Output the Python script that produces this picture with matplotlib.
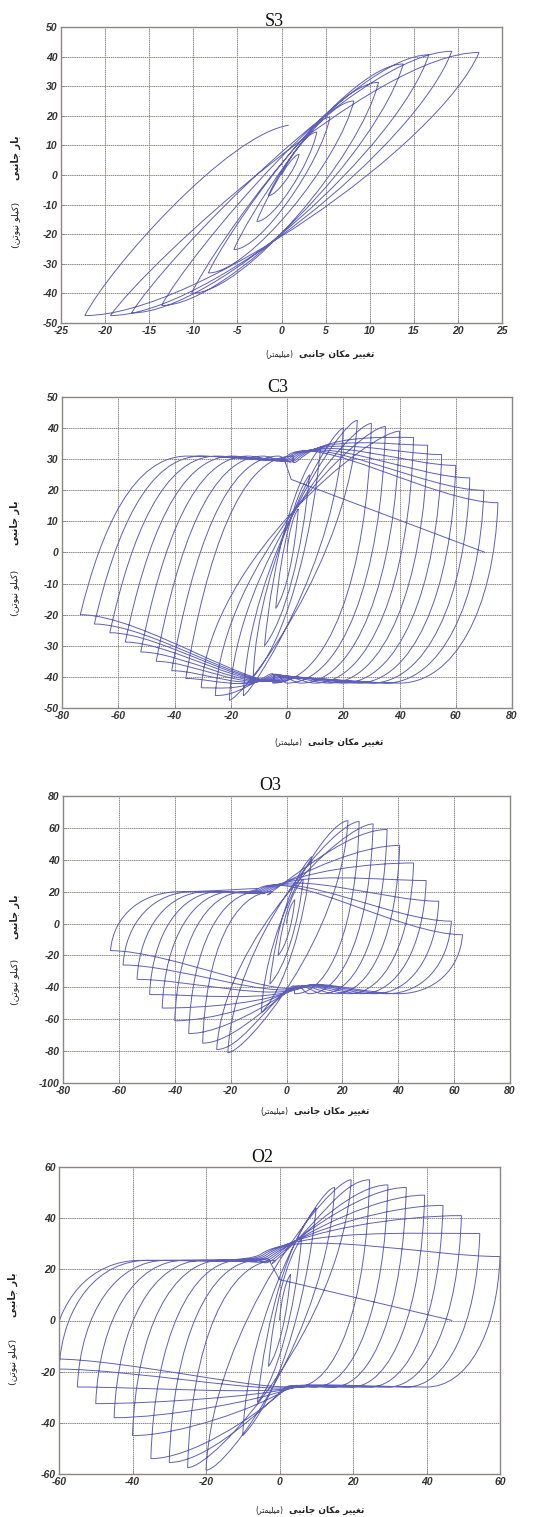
import matplotlib
matplotlib.use("Agg")
import matplotlib.pyplot as plt
from matplotlib.path import Path
from matplotlib.patches import PathPatch

plt.rcParams["axes.unicode_minus"] = False

W, H = 554, 1517
LINE_COLOR = "#5f5fbb"
LW = 0.7
GRID_COLOR = "#8c8682"

# ---------------- S3 ----------------
s3_pos_x = [2.0, 4.0, 5.5, 8.2, 11.0, 13.8, 16.7, 19.3, 22.4]
s3_pos_y = [7.0, 14.5, 19.5, 25.0, 31.3, 37.5, 40.6, 41.8, 41.4]
s3_neg_x = [-1.5, -2.8, -5.4, -8.3, -10.2, -13.6, -17.0, -19.4, -22.3]
s3_neg_y = [-7.0, -15.7, -25.2, -33.1, -40.0, -44.1, -46.6, -47.5, -47.5]
s3_end = (0.8, 16.8)

# ---------------- C3 ----------------
c3_pos_x = [20, 25, 30, 35, 40, 45, 50, 55, 60, 65, 70, 75]
c3_pos_y = [40, 42.5, 41.5, 40.5, 39, 37, 34.5, 31.5, 28, 24, 20, 16]
c3_neg_x = [-15.5, -20.5, -25.5, -30.5, -36, -41, -46.5, -52, -57.5, -63, -68.5, -73.5]
c3_neg_y = [-46, -47.5, -46, -43.5, -40.5, -38, -35, -32, -28.8, -25.8, -23, -20]
c3_small_pos = [(4, 14), (8, 25), (12, 34)]
c3_small_neg = [(-4, -18), (-8, -30), (-12, -40)]
c3_final = [(-1, 30), (1.5, 23.5), (70.5, 0)]

# ---------------- O3 ----------------
o3_pos_x = [22, 26, 31, 36, 40.5, 45.5, 50, 54.5, 59, 63]
o3_pos_y = [64.5, 64, 62.5, 59, 49, 38, 27, 14, 1.5, -7]
o3_neg_x = [-21, -25, -30, -35, -40, -44.5, -49, -53.5, -58.5, -63]
o3_neg_y = [-81, -79, -75, -69, -61, -53, -44.5, -35, -26, -17]
o3_small_pos = [(3, 15), (6, 28), (9, 42)]
o3_small_neg = [(-3, -20), (-6, -38), (-9, -56)]
o3_final = []

# ---------------- O2 ----------------
o2_pos_x = [15, 19.5, 24.5, 29.5, 34.5, 39.5, 44.5, 49.5, 54.5, 60]
o2_pos_y = [52, 55, 55, 53, 52, 49, 45, 41, 34, 25]
o2_neg_x = [-20, -25, -30, -35, -40, -45, -50, -55, -60, -62]
o2_neg_y = [-58.5, -57.5, -55.5, -54, -45, -38, -32.5, -26, -19, -15]
o2_small_pos = [(3, 18), (6, 32), (10, 44)]
o2_small_neg = [(-3, -18), (-6, -32), (-10, -45)]
o2_final = [(-3, 24), (0, 16), (47, 0)]

# loop shape settings per specimen
shapes = {
    "C3": dict(wl=38, ytop=31, s0t=(4, 30), spt=(-8, 2), otx=10, bumpt=8,
               wr=35, ybot=-42, s0b=(-4, -40), spb=(8, -2), obx=-10, bumpb=5,
               larc=(0.2, 0.55, 0.5), rarc=(0.04, 0.6, 0.55)),
    "O3": dict(wl=25, ytop=20, s0t=(-6, 21), spt=(-8, 2), otx=12, bumpt=12,
               wr=23, ybot=-44, s0b=(4, -40), spb=(8, 2), obx=-10, bumpb=10,
               larc=(0.04, 0.6, 0.55), rarc=(0.04, 0.6, 0.55)),
    "O2": dict(wl=24, ytop=23.5, s0t=(-2, 25), spt=(-6, 2), otx=10, bumpt=10,
               wr=20, ybot=-26, s0b=(2, -27), spb=(6, 3), obx=-8, bumpb=3,
               larc=(0.04, 0.6, 0.55), rarc=(0.04, 0.6, 0.55)),
}


def curve(v, c, c1, c2, end):
    v += [c1, c2, end]
    c += [Path.CURVE4] * 3


def seg(v, c, a_pt, b_pt, a, b, cc, d):
    dx = b_pt[0] - a_pt[0]
    dy = b_pt[1] - a_pt[1]
    curve(v, c, (a_pt[0] + a * dx, a_pt[1] + b * dy), (b_pt[0] - cc * dx, b_pt[1] - d * dy), b_pt)


def load(v, c, n, p, s, frac, stop=None):
    jx = s["s0t"][0] + frac * s["spt"][0]
    jy = s["s0t"][1] + frac * s["spt"][1]
    if stop is not None:
        jx, jy = stop
    ax = n[0] + s["wl"]
    if ax >= jx and p is not None:
        # inner cycle: one steep curve straight into the peak
        curve(v, c, (n[0] + 0.05 * (p[0] - n[0]), n[1] + 0.5 * (p[1] - n[1])),
              (p[0] - 0.3 * (p[0] - jx), p[1]), p)
        return
    a_pt = (ax, s["ytop"])
    la, lb, lc = s["larc"]
    seg(v, c, n, a_pt, la, lb, lc, 0)
    if p is None:
        curve(v, c, (a_pt[0] + (jx - a_pt[0]) / 3, a_pt[1]), (jx - 3, jy), (jx, jy))
        return
    rx, ry = s["otx"], max(s["bumpt"], 0.4 * (p[1] - jy))
    curve(v, c, (a_pt[0] + (jx - a_pt[0]) / 3, a_pt[1]), (jx - 0.35 * rx, jy - 0.35 * ry), (jx, jy))
    curve(v, c, (jx + rx, jy + ry), (p[0] - 0.3 * (p[0] - jx), p[1]), p)


def unload(v, c, p, n, s, frac):
    jx = s["s0b"][0] + frac * s["spb"][0]
    jy = s["s0b"][1] + frac * s["spb"][1]
    bx = p[0] - s["wr"]
    if bx <= jx:
        curve(v, c, (p[0] + 0.05 * (n[0] - p[0]), p[1] + 0.5 * (n[1] - p[1])),
              (n[0] + 0.3 * (jx - n[0]), n[1]), n)
        return
    b_pt = (bx, s["ybot"])
    ra, rb, rc = s["rarc"]
    seg(v, c, p, b_pt, ra, rb, rc, 0)
    rx, ry = s["obx"], -max(s["bumpb"], 0.4 * (jy - n[1]))
    curve(v, c, (b_pt[0] + (jx - b_pt[0]) / 3, b_pt[1]), (jx - 0.35 * rx, jy - 0.35 * ry), (jx, jy))
    curve(v, c, (jx + rx, jy + ry), (n[0] + 0.3 * (jx - n[0]), n[1]), n)


def pinched_path(pos_x, pos_y, neg_x, neg_y, small_pos, small_neg, final, s):
    v, c = [(0, 0)], [Path.MOVETO]
    cur = (0, 0)
    for sp, sn in zip(small_pos, small_neg):
        seg(v, c, cur, sp, 0.15, 0.45, 0.45, 0.15)
        seg(v, c, sp, sn, 0.15, 0.45, 0.45, 0.15)
        cur = sn
    n = len(pos_x)
    for i, (px, py, nx, ny) in enumerate(zip(pos_x, pos_y, neg_x, neg_y)):
        frac = i / (n - 1) - 0.5
        load(v, c, cur, (px, py), s, frac)
        unload(v, c, (px, py), (nx, ny), s, frac)
        cur = (nx, ny)
    if final:
        load(v, c, cur, None, s, 0.5, stop=final[0])
        for pt in final[1:]:
            v.append(pt)
            c.append(Path.LINETO)
    else:
        load(v, c, cur, None, s, 0.5)
    return Path(v, c)


def s3_path():
    v, c = [(0, 0)], [Path.MOVETO]
    cur = (0, 0)
    for px, py, nx, ny in zip(s3_pos_x, s3_pos_y, s3_neg_x, s3_neg_y):
        seg(v, c, cur, (px, py), 0.1, 0.2, 0.28, 0)
        seg(v, c, (px, py), (nx, ny), 0.1, 0.35, 0.28, 0)
        cur = (nx, ny)
    seg(v, c, cur, s3_end, 0.12, 0.25, 0.3, 0.05)
    return Path(v, c)


def fa(word):
    return "".join(chr(int(h, 16)) for h in word.split())


# visual-order presentation forms (right-to-left text laid out left-to-right)
X_MAIN = " ".join([fa("FEF0 FE92 FEE7 FE8E FE9F"), fa("FEE5 FE8E FB91 FEE3"), fa("FEAE FEF4 FEF4 FED0 FE97")])
X_UNIT = "(" + fa("FEAE FE98 FEE4 FEF4 FEE0 FEF4 FEE3") + ")"
Y_MAIN = " ".join([fa("FEF0 FE92 FEE7 FE8E FE9F"), fa("FEAD FE8E FE91")])
Y_UNIT = "(" + fa("FEE6 FE97 FEEE FEF4 FEE7") + " " + fa("FEEE FEE0 FEF4 FB90") + ")"

panels = [
    # name, box (l, r, t, b) px, xlim, xstep, ylim, ystep, title xy,
    # xlabel (unit right edge x, y), ylabel (x, main y, unit y)
    ("S3", (61, 502, 27, 323), (-25, 25), 5, (-50, 50), 10, (274, 21), (293, 354), (16, 158, 225)),
    ("C3", (62, 512, 397, 708), (-80, 80), 20, (-50, 50), 10, (278, 387), (302, 742), (15, 523, 593)),
    ("O3", (63, 510, 796, 1083), (-80, 80), 20, (-100, 80), 20, (270, 785), (288, 1111), (15, 917, 982)),
    ("O2", (59, 500, 1167, 1474), (-60, 60), 20, (-60, 60), 20, (262, 1158), (283, 1510), (13, 1295, 1362)),
]

data = {
    "C3": (c3_pos_x, c3_pos_y, c3_neg_x, c3_neg_y, c3_small_pos, c3_small_neg, c3_final),
    "O3": (o3_pos_x, o3_pos_y, o3_neg_x, o3_neg_y, o3_small_pos, o3_small_neg, o3_final),
    "O2": (o2_pos_x, o2_pos_y, o2_neg_x, o2_neg_y, o2_small_pos, o2_small_neg, o2_final),
}

fig = plt.figure(figsize=(W / 100, H / 100), dpi=100)
fig.patch.set_facecolor("white")

for name, (l, r, t, b), xlim, xstep, ylim, ystep, tpos, xl, yl in panels:
    ax = fig.add_axes([l / W, 1 - b / H, (r - l) / W, (b - t) / H])
    if name == "S3":
        path = s3_path()
    else:
        path = pinched_path(*data[name], shapes[name])
    ax.add_patch(PathPatch(path, facecolor="none", edgecolor=LINE_COLOR, lw=LW))

    ax.set_xlim(*xlim)
    ax.set_ylim(*ylim)
    ax.set_xticks(range(xlim[0], xlim[1] + 1, xstep))
    ax.set_yticks(range(ylim[0], ylim[1] + 1, ystep))
    ax.grid(True, color=GRID_COLOR, linestyle=(0, (1.5, 0.7)), linewidth=0.7)
    ax.set_axisbelow(True)
    for sp in ax.spines.values():
        sp.set_color(GRID_COLOR)
        sp.set_linewidth(1.0)
    ax.tick_params(direction="in", length=3, width=0.6, color=GRID_COLOR, pad=2.5,
                   labelsize=7.5, labelcolor="#333333")
    for lab in ax.get_xticklabels() + ax.get_yticklabels():
        lab.set_fontfamily("Liberation Sans")
        lab.set_fontweight("bold")
        lab.set_fontstyle("italic")

    fig.text(tpos[0] / W, 1 - tpos[1] / H, name, ha="center", va="center",
             fontsize=13, family="Liberation Serif", color="#111111")
    fig.text(xl[0] / W, 1 - xl[1] / H, X_UNIT, ha="right", va="center",
             fontsize=5.5, family="DejaVu Sans", color="#222222")
    fig.text((xl[0] + 6) / W, 1 - xl[1] / H, X_MAIN, ha="left", va="center",
             fontsize=6.5, family="DejaVu Sans", fontweight="bold", color="#222222")
    fig.text(yl[0] / W, 1 - yl[1] / H, Y_MAIN, ha="center", va="center", rotation=90,
             fontsize=7, family="DejaVu Sans", fontweight="bold", color="#222222")
    fig.text(yl[0] / W, 1 - yl[2] / H, Y_UNIT, ha="center", va="center", rotation=90,
             fontsize=6.8, family="DejaVu Sans", color="#222222")

fig.savefig("out.png", dpi=100, facecolor="white")
